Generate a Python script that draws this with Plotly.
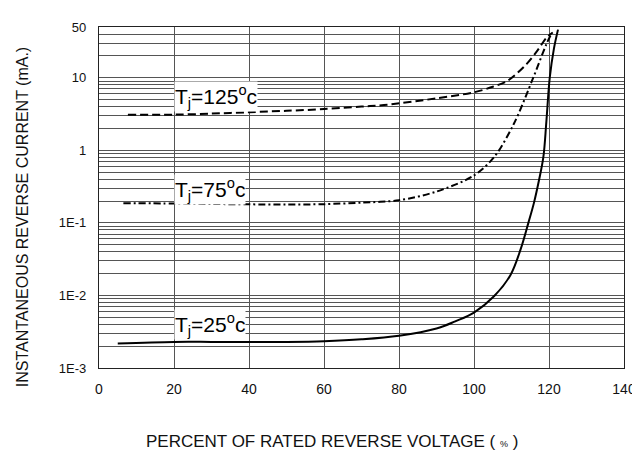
import plotly.graph_objects as go
import math

# ---- data ----
x_125 = [7.7, 20, 30, 40, 50, 60, 70, 76, 90, 100, 105, 109, 114, 117, 119.3, 121]
y_125 = [3.1, 3.1, 3.2, 3.35, 3.5, 3.7, 4.0, 4.2, 5.2, 6.3, 7.5, 9.1, 15.4, 24, 35.5, 42]

x_75 = [6.5, 20, 30, 40, 50, 60, 70, 80, 90, 100, 105.4, 110.6, 115.8, 119.3, 120.6]
y_75 = [0.186, 0.185, 0.182, 0.18, 0.179, 0.181, 0.19, 0.205, 0.27, 0.45, 0.81, 2.3, 10, 29, 40]

x_25 = [5, 20, 30, 40, 50, 60, 70, 80, 90, 95, 100, 105.4, 109.7, 112.4, 114.5, 116, 117.3, 118.5, 119.3, 120.2, 121.3, 122.4]
y_25 = [0.00218, 0.00229, 0.00229, 0.00228, 0.00229, 0.00234, 0.00248, 0.00278, 0.0035, 0.0044, 0.0058, 0.0098, 0.0190, 0.0427, 0.10, 0.19, 0.38, 0.81, 2.5, 10, 25, 46]

y_tickvals = [0.001, 0.01, 0.1, 1, 10, 50]
y_ticktext = ["1E-3", "1E-2", "1E-1", "1", "10", "50"]
x_tickvals = [0, 20, 40, 60, 80, 100, 120, 140]

labels = ["T<sub>j</sub>=125<sup>o</sup>c", "T<sub>j</sub>=75<sup>o</sup>c", "T<sub>j</sub>=25<sup>o</sup>c"]
label_y = [5.5, 0.292, 0.004]

minor_vals = []
for d in [0.001, 0.01, 0.1, 1, 10]:
    for m in range(2, 10):
        minor_vals.append(m * d)
minor_vals += [20, 30, 40]

fig = go.Figure()
fig.add_trace(go.Scatter(x=x_125, y=y_125, mode="lines",
                         line=dict(color="black", width=2, dash="8px,4px", shape="spline", smoothing=0.9)))
fig.add_trace(go.Scatter(x=x_75, y=y_75, mode="lines",
                         line=dict(color="black", width=2, dash="7px,3px,2px,3px", shape="spline", smoothing=0.9)))
fig.add_trace(go.Scatter(x=x_25, y=y_25, mode="lines",
                         line=dict(color="black", width=2, shape="spline", smoothing=1.0)))

for txt, yv in zip(labels, label_y):
    fig.add_annotation(x=20, y=math.log10(yv), xref="x", yref="y", text=txt,
                       xanchor="left", yanchor="middle", showarrow=False,
                       bgcolor="white", borderpad=0,
                       font=dict(family="Liberation Sans, Arial", size=21, color="black"))

fig.add_annotation(x=0.443, y=0, xref="paper", yref="paper", yanchor="middle", yshift=-73,
                   text="PERCENT OF RATED REVERSE VOLTAGE ( <span style='font-size:9px'>%</span> )",
                   showarrow=False, font=dict(family="Liberation Sans, Arial", size=17, color="#111"))
fig.add_annotation(x=0, y=0.442, xref="paper", yref="paper", xanchor="center", yanchor="middle", xshift=-77,
                   text="INSTANTANEOUS REVERSE CURRENT (mA.)", textangle=-90,
                   showarrow=False, font=dict(family="Liberation Sans, Arial", size=16, color="#111"))

fig.update_layout(
    width=640, height=452,
    margin=dict(l=91, r=14, t=16, b=92),
    paper_bgcolor="white", plot_bgcolor="white",
    showlegend=False,
    font=dict(family="Liberation Sans, Arial", color="#111"),
    xaxis=dict(range=[0, 140], tickvals=x_tickvals, showgrid=True, gridcolor="#555", gridwidth=1,
               showline=True, mirror=True, linecolor="#222", linewidth=1.2,
               ticks="", ticklabelstandoff=8, tickfont=dict(size=14), zeroline=False),
    yaxis=dict(type="log", range=[-3, math.log10(50)], tickvals=y_tickvals, ticktext=y_ticktext,
               showgrid=True, gridcolor="#555", gridwidth=1,
               showline=True, mirror=True, linecolor="#222", linewidth=1.2,
               ticks="", ticklabelstandoff=9, tickfont=dict(size=13), zeroline=False,
               minor=dict(tickmode="array", tickvals=minor_vals, showgrid=True, gridcolor="#555", gridwidth=1, ticks="")),
)

fig.write_html("out.html")
